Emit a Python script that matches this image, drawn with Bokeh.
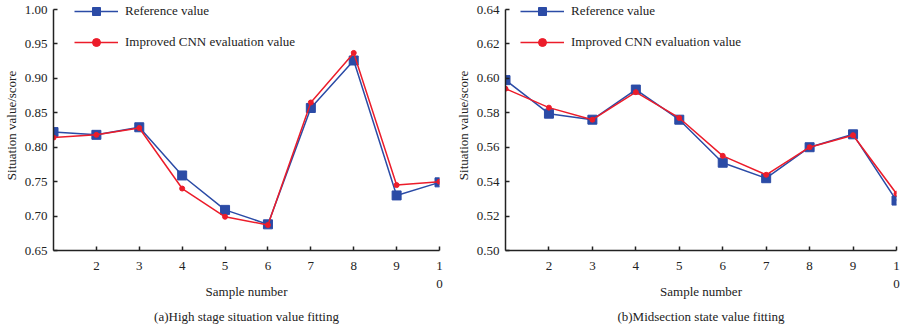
from bokeh.plotting import figure
from bokeh.layouts import row
from bokeh.models import FixedTicker, Range1d, Legend, LegendItem, Title
from bokeh.embed import file_html
from bokeh.resources import INLINE

samples = [1, 2, 3, 4, 5, 6, 7, 8, 9, 10]
x_ticks = [2, 3, 4, 5, 6, 7, 8, 9, 10]
x_tick_labels = {10: "1\n0"}

high_ref = [0.822, 0.818, 0.829, 0.759, 0.709, 0.688, 0.857, 0.926, 0.730, 0.749]
high_cnn = [0.814, 0.818, 0.828, 0.740, 0.699, 0.687, 0.865, 0.937, 0.745, 0.750]

mid_ref = [0.599, 0.5795, 0.576, 0.5935, 0.576, 0.551, 0.542, 0.560, 0.5675, 0.529]
mid_cnn = [0.594, 0.583, 0.576, 0.592, 0.577, 0.555, 0.544, 0.560, 0.567, 0.533]

high_yticks = [0.65, 0.70, 0.75, 0.80, 0.85, 0.90, 0.95, 1.00]
mid_yticks = [0.50, 0.52, 0.54, 0.56, 0.58, 0.60, 0.62, 0.64]

series_names = ["Reference value", "Improved CNN evaluation value"]
captions = ["(a)High stage situation value fitting", "(b)Midsection state value fitting"]

FONT = "Liberation Serif"
BLUE = "#2b4ba6"
RED = "#ec1c2a"

FRAME_H = 257      # frame from canvas top to x axis
AXIS_TOP = 9.3     # pixel row of the highest y tick


def make_panel(ref, cnn, yticks, caption, left_border, right_border, legend_x):
    lo, hi = yticks[0], yticks[-1]
    span = hi - lo
    top = hi + span * AXIS_TOP / (FRAME_H - AXIS_TOP)
    p = figure(width=450, height=328, output_backend="svg", toolbar_location=None,
               min_border_left=left_border, min_border_right=right_border,
               min_border_top=0, min_border_bottom=328 - FRAME_H,
               x_range=Range1d(1, 10), y_range=Range1d(lo, top))
    p.outline_line_color = None
    p.grid.visible = False
    p.background_fill_color = "white"

    l1 = p.line(samples, ref, line_color=BLUE, line_width=1.5)
    s1 = p.scatter(samples, ref, marker="square", size=9, fill_color=BLUE, line_color=BLUE)
    l2 = p.line(samples, cnn, line_color=RED, line_width=1.5)
    s2 = p.scatter(samples, cnn, marker="circle", size=5, fill_color=RED, line_color=RED)

    for ax in (p.xaxis[0], p.yaxis[0]):
        ax.axis_line_color = "#222222"
        ax.axis_line_width = 1.5
        ax.major_tick_line_color = "#222222"
        ax.major_tick_line_width = 1.5
        ax.major_tick_in = 4
        ax.major_tick_out = 0
        ax.minor_tick_line_color = None
        ax.major_label_text_font = FONT
        ax.major_label_text_font_size = "13px"
        ax.major_label_text_color = "#222222"
        ax.axis_label_text_font = FONT
        ax.axis_label_text_font_size = "13px"
        ax.axis_label_text_font_style = "normal"
        ax.axis_label_text_color = "#222222"

    p.xaxis.ticker = FixedTicker(ticks=x_ticks)
    p.xaxis.major_label_overrides = x_tick_labels
    p.xaxis.major_label_standoff = 7
    p.xaxis.axis_label = "Sample number"
    p.xaxis.axis_label_standoff = -10

    p.yaxis.ticker = FixedTicker(ticks=yticks)
    p.yaxis.bounds = (lo, hi)
    p.yaxis.major_label_overrides = {t: f"{t:.2f}" for t in yticks}
    p.yaxis.major_label_standoff = 6
    p.yaxis.axis_label = "Situation value/score"
    p.yaxis.axis_label_standoff = 3

    legend = Legend(items=[LegendItem(label=series_names[0], renderers=[l1, s1]),
                           LegendItem(label=series_names[1], renderers=[l2, s2])],
                    location=(legend_x, FRAME_H - 59), padding=0, margin=0, spacing=11,
                    glyph_width=44, glyph_height=20, label_height=20, label_standoff=7,
                    border_line_color=None, background_fill_alpha=0,
                    label_text_font=FONT, label_text_font_size="13px",
                    label_text_color="#222222")
    p.add_layout(legend, "center")

    t = Title(text=caption, align="center", text_font=FONT, text_font_size="13px",
              text_font_style="normal", text_color="#222222")
    p.add_layout(t, "below")
    return p


p1 = make_panel(high_ref, high_cnn, high_yticks, captions[0], 50, 11, 21)
p2 = make_panel(mid_ref, mid_cnn, mid_yticks, captions[1], 55, 4, 15)

layout = row(p1, p2)
open("out.html", "w").write(file_html(layout, INLINE))
